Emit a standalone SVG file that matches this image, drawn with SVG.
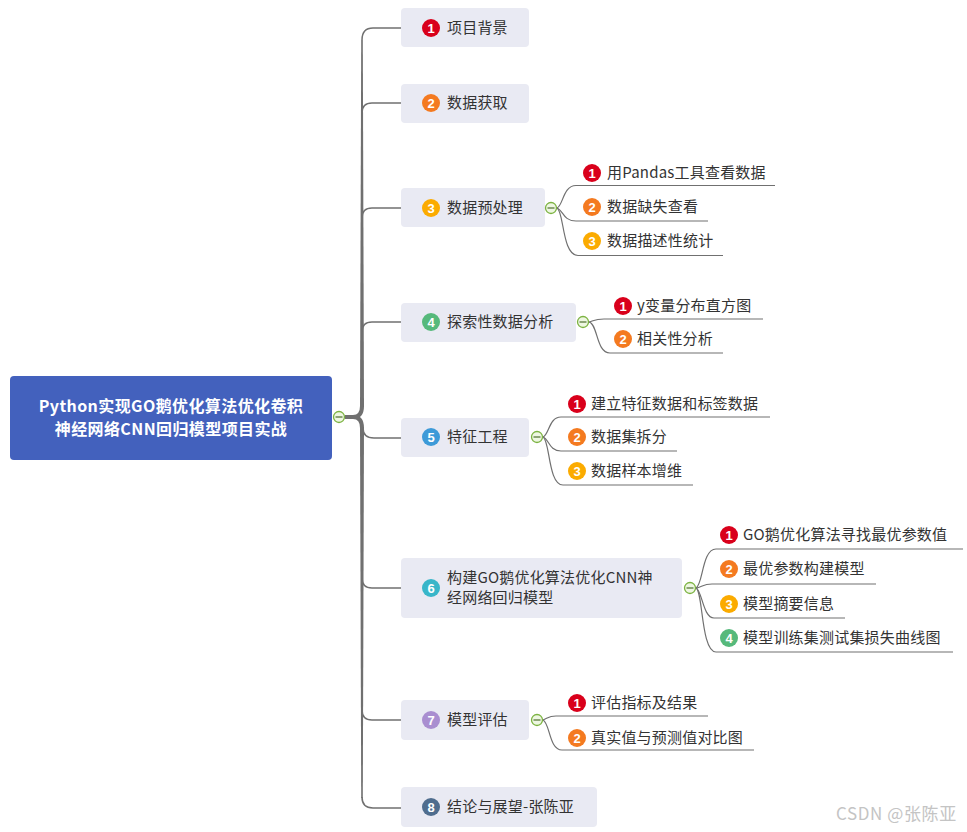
<svg xmlns="http://www.w3.org/2000/svg" width="967" height="832" viewBox="0 0 967 832">
<style>
.t{font-family:"Noto Sans CJK SC","Noto Sans",sans-serif;font-size:15px;fill:#333;letter-spacing:0.2px}
.rt{font-family:"Noto Sans CJK SC","Noto Sans",sans-serif;font-size:16px;font-weight:bold;fill:#fff;letter-spacing:0.4px}
.n{fill:#e9eaf3}
.b{font-family:"Liberation Sans",Arial,sans-serif;font-size:13px;font-weight:bold;fill:#fff;text-anchor:middle}
.c{fill:none;stroke:#707070;stroke-width:1.5}
.s{fill:none;stroke:#707070;stroke-width:1.2}
.col circle{fill:#eef7e2;stroke:#7cb342;stroke-width:1.3}
.col line{stroke:#58793a;stroke-width:1.3}
.wm{font-family:"Noto Sans CJK SC","Noto Sans",sans-serif;font-size:17px;fill:#c4c4c4;letter-spacing:0.6px}
</style>
<rect width="967" height="832" fill="#fff"/>
<g id="connectors">
  <path d="M345 417 H353 Q362 417 362 406 M353 417 Q362 417 362 428" fill="none" stroke="#707070" stroke-width="4"/>
  <path d="M360 407 L364 407 L362.8 40 L361.2 40 Z" fill="#707070"/>
  <path d="M360 427 L364 427 L362.8 798 L361.2 798 Z" fill="#707070"/>
  <path class="c" d="M362 40 Q362 28 373 28 H401"/>
  <path class="c" d="M362 113 Q362 103 372 103 H401"/>
  <path class="c" d="M362 218 Q362 208 372 208 H401"/>
  <path class="c" d="M362 332 Q362 322 372 322 H401"/>
  <path class="c" d="M363 428 Q363 438 374 438 H401"/>
  <path class="c" d="M362 578 Q362 588 372 588 H401"/>
  <path class="c" d="M362 710 Q362 720 372 720 H401"/>
  <path class="c" d="M362 797 Q362 808 373 808 H401"/>
  <path class="s" d="M557 208 C563 206 563 185.5 576 185.5 H775"/>
  <path class="s" d="M557 208 C563 210 563 221 576 221 H708"/>
  <path class="s" d="M557 208 C564 211 562 255.5 578 255.5 H723"/>
  <path class="s" d="M589 322 C594 321 594 319 604 319 H763"/>
  <path class="s" d="M589 322 C598 324 596 353 610 353 H723"/>
  <path class="s" d="M543 437 C549 435 549 417 561 417 H770"/>
  <path class="s" d="M543 437 C549 439 549 451 561 451 H677"/>
  <path class="s" d="M543 437 C550 440 548 485 563 485 H693"/>
  <path class="s" d="M696 588 C703 585 702 549 716 549 H963"/>
  <path class="s" d="M696 588 C702 587 703 584 712 584 H876"/>
  <path class="s" d="M696 588 C702 590 703 618 714 618 H845"/>
  <path class="s" d="M696 588 C703 591 701 652 716 652 H953"/>
  <path class="s" d="M543 720 C548 718 549 716 556 716 H708"/>
  <path class="s" d="M543 720 C550 723 549 750 562 750 H754"/>
</g>
<g id="root">
  <rect x="10" y="376" width="322" height="84" rx="4" fill="#4361bd"/>
  <text class="rt" x="171" y="412" text-anchor="middle">Python实现GO鹅优化算法优化卷积</text>
  <text class="rt" x="171" y="435" text-anchor="middle">神经网络CNN回归模型项目实战</text>
  <g class="col"><circle cx="339" cy="417" r="5.5"/><line x1="335.5" y1="417" x2="342.5" y2="417"/></g>
</g>
<g id="n1">
  <rect class="n" x="401" y="8" width="128" height="39" rx="4"/>
  <circle cx="431" cy="28" r="9" fill="#d9001b"/><text class="b" x="431" y="32.5">1</text>
  <text class="t" x="447" y="33">项目背景</text>
</g>
<g id="n2">
  <rect class="n" x="401" y="84" width="128" height="39" rx="4"/>
  <circle cx="431" cy="103" r="9" fill="#f47a20"/><text class="b" x="431" y="107.5">2</text>
  <text class="t" x="447" y="108">数据获取</text>
</g>
<g id="n3">
  <rect class="n" x="401" y="188" width="144" height="39" rx="4"/>
  <circle cx="431" cy="208" r="9" fill="#fbab00"/><text class="b" x="431" y="212.5">3</text>
  <text class="t" x="447" y="213">数据预处理</text>
  <g class="col"><circle cx="551" cy="208" r="5.5"/><line x1="547.5" y1="208" x2="554.5" y2="208"/></g>
</g>
<g id="n3c1">
  <circle cx="592" cy="173" r="9" fill="#d9001b"/><text class="b" x="592" y="177.5">1</text>
  <text class="t" x="607" y="178">用Pandas工具查看数据</text>
</g>
<g id="n3c2">
  <circle cx="592" cy="207" r="9" fill="#f47a20"/><text class="b" x="592" y="211.5">2</text>
  <text class="t" x="607" y="212">数据缺失查看</text>
</g>
<g id="n3c3">
  <circle cx="592" cy="241" r="9" fill="#fbab00"/><text class="b" x="592" y="245.5">3</text>
  <text class="t" x="607" y="246">数据描述性统计</text>
</g>
<g id="n4">
  <rect class="n" x="401" y="303" width="175" height="39" rx="4"/>
  <circle cx="431" cy="322" r="9" fill="#56b97b"/><text class="b" x="431" y="326.5">4</text>
  <text class="t" x="447" y="327">探索性数据分析</text>
  <g class="col"><circle cx="583" cy="322" r="5.5"/><line x1="579.5" y1="322" x2="586.5" y2="322"/></g>
</g>
<g id="n4c1">
  <circle cx="623" cy="306" r="9" fill="#d9001b"/><text class="b" x="623" y="310.5">1</text>
  <text class="t" x="637" y="311">y变量分布直方图</text>
</g>
<g id="n4c2">
  <circle cx="623" cy="339" r="9" fill="#f47a20"/><text class="b" x="623" y="343.5">2</text>
  <text class="t" x="637" y="344">相关性分析</text>
</g>
<g id="n5">
  <rect class="n" x="401" y="418" width="128" height="39" rx="4"/>
  <circle cx="431" cy="437" r="9" fill="#3d9ad8"/><text class="b" x="431" y="441.5">5</text>
  <text class="t" x="447" y="442">特征工程</text>
  <g class="col"><circle cx="537" cy="437" r="5.5"/><line x1="533.5" y1="437" x2="540.5" y2="437"/></g>
</g>
<g id="n5c1">
  <circle cx="577" cy="404" r="9" fill="#d9001b"/><text class="b" x="577" y="408.5">1</text>
  <text class="t" x="591" y="409">建立特征数据和标签数据</text>
</g>
<g id="n5c2">
  <circle cx="577" cy="437" r="9" fill="#f47a20"/><text class="b" x="577" y="441.5">2</text>
  <text class="t" x="591" y="442">数据集拆分</text>
</g>
<g id="n5c3">
  <circle cx="577" cy="471" r="9" fill="#fbab00"/><text class="b" x="577" y="475.5">3</text>
  <text class="t" x="591" y="476">数据样本增维</text>
</g>
<g id="n6">
  <rect class="n" x="401" y="558" width="281" height="60" rx="4"/>
  <circle cx="431" cy="588" r="9" fill="#38b6c9"/><text class="b" x="431" y="592.5">6</text>
  <text class="t" x="447" y="583">构建GO鹅优化算法优化CNN神</text>
  <text class="t" x="447" y="603">经网络回归模型</text>
  <g class="col"><circle cx="690" cy="588" r="5.5"/><line x1="686.5" y1="588" x2="693.5" y2="588"/></g>
</g>
<g id="n6c1">
  <circle cx="729" cy="535" r="9" fill="#d9001b"/><text class="b" x="729" y="539.5">1</text>
  <text class="t" x="743" y="540">GO鹅优化算法寻找最优参数值</text>
</g>
<g id="n6c2">
  <circle cx="729" cy="569" r="9" fill="#f47a20"/><text class="b" x="729" y="573.5">2</text>
  <text class="t" x="743" y="574">最优参数构建模型</text>
</g>
<g id="n6c3">
  <circle cx="729" cy="604" r="9" fill="#fbab00"/><text class="b" x="729" y="608.5">3</text>
  <text class="t" x="743" y="609">模型摘要信息</text>
</g>
<g id="n6c4">
  <circle cx="729" cy="638" r="9" fill="#56b97b"/><text class="b" x="729" y="642.5">4</text>
  <text class="t" x="743" y="643">模型训练集测试集损失曲线图</text>
</g>
<g id="n7">
  <rect class="n" x="401" y="700" width="128" height="40" rx="4"/>
  <circle cx="431" cy="720" r="9" fill="#a98ed0"/><text class="b" x="431" y="724.5">7</text>
  <text class="t" x="447" y="725">模型评估</text>
  <g class="col"><circle cx="537" cy="720" r="5.5"/><line x1="533.5" y1="720" x2="540.5" y2="720"/></g>
</g>
<g id="n7c1">
  <circle cx="577" cy="703" r="9" fill="#d9001b"/><text class="b" x="577" y="707.5">1</text>
  <text class="t" x="591" y="708">评估指标及结果</text>
</g>
<g id="n7c2">
  <circle cx="577" cy="738" r="9" fill="#f47a20"/><text class="b" x="577" y="742.5">2</text>
  <text class="t" x="591" y="743">真实值与预测值对比图</text>
</g>
<g id="n8">
  <rect class="n" x="401" y="787" width="196" height="40" rx="4"/>
  <circle cx="431" cy="807" r="9" fill="#4f6d8e"/><text class="b" x="431" y="811.5">8</text>
  <text class="t" x="447" y="812">结论与展望-张陈亚</text>
</g>
<text class="wm" x="836" y="820">CSDN @张陈亚</text>
</svg>
